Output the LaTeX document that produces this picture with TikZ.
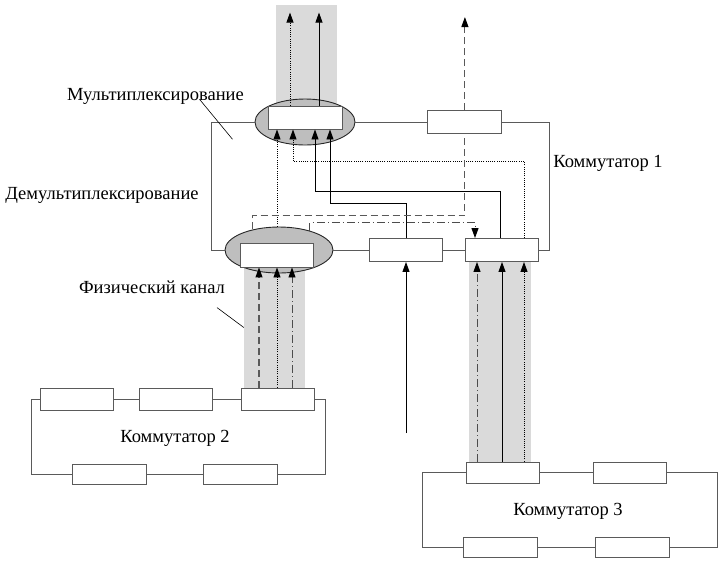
\documentclass[tikz,border=0pt]{standalone}
\usepackage{fontspec}
\setmainfont{Liberation Serif}
\usepackage{xcolor}
\usepackage{tikz}
\usetikzlibrary{shapes.geometric, arrows.meta, positioning}
\definecolor{ringgray}{HTML}{5A5A5A}
\definecolor{ellgray}{HTML}{BEBEBE}
\definecolor{bandgray}{HTML}{DADADA}
\tikzset{
  portbox/.style={rectangle, draw=ringgray, fill=white, line width=0.9pt,
    minimum width=73pt, minimum height=23pt, inner sep=0pt},
  muxell/.style={ellipse, draw=black!85, fill=ellgray, line width=0.9pt, inner sep=0pt},
  band/.style={rectangle, fill=bandgray, inner sep=0pt},
  ring/.style={ringgray, line width=0.9pt},
  sig/.style={-{Triangle[length=10pt, width=7pt, color=black]}, line width=0.9pt, black},
  dashsig/.style={sig, black!65, line width=1.1pt, dash pattern=on 7pt off 4pt},
  dotsig/.style={sig, dash pattern=on 1pt off 1.2pt},
  dotdashsig/.style={sig, black!70, dash pattern=on 8pt off 3pt on 1pt off 3pt},
  leader/.style={black, line width=0.6pt},
  txt/.style={font=\fontsize{18.5}{22}\selectfont, inner sep=2pt}
}

\begin{document}
\begin{tikzpicture}[x=1pt, y=-1pt, node distance=26pt]
  \useasboundingbox (0,0) rectangle (722,566);
  % channel bands
  \node[band, minimum width=61pt, minimum height=105pt] (ch1) at (306.5,57.5) {};
  \node[band, minimum width=61pt, minimum height=121pt] (ch2) at (274.5,327.5) {};
  \node[band, minimum width=62pt, minimum height=200pt] (ch3) at (500,362) {};
  % switch 1
  \node[muxell, minimum width=100pt, minimum height=46pt] (mux) at (305,122) {};
  \node[portbox, minimum width=74pt] (muxbox) at (305,117.5) {};
  \node[portbox, minimum width=74pt, right=72pt of mux] (tr) {};
  \node[muxell, minimum width=108pt, minimum height=46pt] (demux) at (279,250) {};
  \node[portbox, minimum height=24pt] (demuxbox) at (276.5,255) {};
  \node[portbox, right=36pt of demux] (mr) {};
  \node[portbox, right=22pt of mr] (rr) {};
  \draw[ring] (mux.west) -- ++(-43,0) |- (demux.west);
  \draw[ring] (mux.east) -- (tr.west);
  \draw[ring] (tr.east) -- ++(47,0) |- (rr.east);
  \draw[ring] (demux.east) -- (mr.west);
  \draw[ring] (mr.east) -- (rr.west);
  % switch 2
  \node[portbox, minimum height=22pt] (a1) at (76.5,399) {};
  \node[portbox, minimum height=22pt, right=26pt of a1] (a2) {};
  \node[portbox, minimum height=22pt, right=28pt of a2] (a3) {};
  \node[portbox, minimum width=74pt, minimum height=20pt] (b1) at (109,474) {};
  \node[portbox, minimum width=74pt, minimum height=20pt, right=57pt of b1] (b2) {};
  \draw[ring] (a1.east) -- (a2.west);
  \draw[ring] (a2.east) -- (a3.west);
  \draw[ring] (a3.east) -- ++(10,0) |- (b2.east);
  \draw[ring] (b2.west) -- (b1.east);
  \draw[ring] (a1.west) -- ++(-8,0) |- (b1.west);
  % switch 3
  \node[portbox, minimum height=21pt] (c1) at (502.5,472.5) {};
  \node[portbox, minimum height=21pt, right=54pt of c1] (c2) {};
  \node[portbox, minimum width=74pt, minimum height=20pt] (d1) at (500,547) {};
  \node[portbox, minimum width=74pt, minimum height=20pt, right=58pt of d1] (d2) {};
  \draw[ring] (c1.east) -- (c2.west);
  \draw[ring] (d1.east) -- (d2.west);
  \draw[ring] (c1.west) -- ++(-43,0) |- (d1.west);
  \draw[ring] (c2.east) -- ++(50,0) |- (d2.east);
  % labels
  \node[txt] (mlabel) at (155.5,96) {Мультиплексирование};
  \node[txt] (dlabel) at (102,195) {Демультиплексирование};
  \node[txt] (flabel) at (152,287) {Физический канал};
  \node[txt] (sw1) at (608,163) {Коммутатор 1};
  \node[txt] (sw2) at (175,438) {Коммутатор 2};
  \node[txt] (sw3) at (568,511) {Коммутатор 3};
  \draw[leader] ([xshift=44pt, yshift=7pt]mlabel.south) -- ++(33,40);
  \draw[leader] ([xshift=-10pt, yshift=-12pt]flabel.south east) -- (ch2.west);
  % signal x positions
  \coordinate (xd1) at (259,0);
  \coordinate (xd2) at (277,0);
  \coordinate (xd3) at (292,0);
  \coordinate (xm2) at (293,0);
  \coordinate (xm3) at (315,0);
  \coordinate (xm4) at (330,0);
  \coordinate (xo1) at (290,0);
  \coordinate (xo2) at (319,0);
  \coordinate (xr0) at (475,0);
  \coordinate (xr1) at (477,0);
  \coordinate (xr2) at (502,0);
  \coordinate (xs)  at (500,0);
  \coordinate (xr3) at (524,0);
  \coordinate (inp) at (406,433);
  % switch 2 -> demux
  \draw[dashsig]    (xd1 |- a3.north) -- (xd1 |- demuxbox.south);
  \draw[dotsig]     (xd2 |- a3.north) -- (xd2 |- demuxbox.south);
  \draw[dotdashsig] (xd3 |- a3.north) -- (xd3 |- demuxbox.south);
  % switch 3 -> rr
  \draw[dotdashsig] (xr1 |- c1.north) -- (xr1 |- rr.south);
  \draw[sig]        (xr2 |- c1.north) -- (xr2 |- rr.south);
  \draw[dotsig]     (xr3 |- c1.north) -- (xr3 |- rr.south);
  % into mr
  \draw[sig] (inp) -- (inp |- mr.south);
  % inside switch 1
  \draw[dotsig] (xd2 |- demux.north) -- (xd2 |- muxbox.south);
  \draw[dotsig] (xr3 |- rr.north) -- ++(0,-77) -| (xm2 |- muxbox.south);
  \draw[sig] (xs |- rr.north) -- ++(0,-47) -| (xm3 |- muxbox.south);
  \draw[sig] (mr.north) -- ++(0,-35) -| (xm4 |- muxbox.south);
  \draw[dashsig, -] (demux.142) -- ++(0,-14) -| (tr.south);
  \draw[dotdashsig] (demux.32) -- ++(0,-8) -| (xr0 |- rr.north);
  % outputs
  \draw[dotsig] (xo1 |- muxbox.north) -- ++(0,-93);
  \draw[sig] (xo2 |- muxbox.north) -- ++(0,-93);
  \draw[dashsig] (tr.north) -- ++(0,-93);
\end{tikzpicture}
\end{document}
